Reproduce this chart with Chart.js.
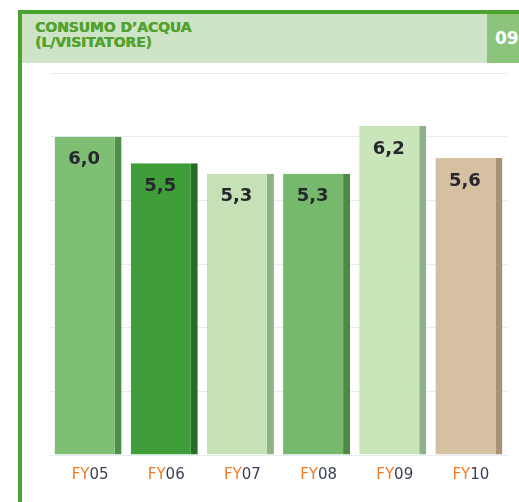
<!DOCTYPE html>
<html><head><meta charset="utf-8">
<script src="https://cdn.jsdelivr.net/npm/chart.js@4/dist/chart.umd.min.js"></script>
<style>
body{margin:0;background:#fff;}
#wrap{position:relative;width:519px;height:502px;overflow:hidden;background:#fff;font-family:"DejaVu Sans",Verdana,sans-serif;}
#frame{position:absolute;left:18px;top:10px;width:520px;height:500px;border-top:4px solid #4aa32e;border-left:4px solid #4aa32e;}
#head{position:absolute;left:22px;top:14px;width:465px;height:49px;background:#cfe4c6;}
#head div{position:absolute;left:13px;top:6px;color:#52a22f;font-weight:bold;font-size:14px;line-height:15px;letter-spacing:-0.1px;text-shadow:0.4px 0 0 #52a22f;}
#tab{position:absolute;left:487px;top:14px;width:40px;height:49px;background:#8dc47b;color:#fff;font-weight:bold;font-size:17px;line-height:49px;padding-left:8px;box-sizing:border-box;}
#c{position:absolute;left:22px;top:64px;}
</style></head>
<body><div id="wrap">
<div id="frame"></div>
<div id="head"><div>CONSUMO D’ACQUA<br>(L/VISITATORE)</div></div>
<div id="tab">09</div>
<canvas id="c" width="497" height="438"></canvas>
</div>
<script>
const categories = ["FY05","FY06","FY07","FY08","FY09","FY10"];
const values = [6.0, 5.5, 5.3, 5.3, 6.2, 5.6];
const barColors = ["#7fbf74","#3f9e3a","#c6e1b6","#76b96d","#c9e5ba","#d5c1a1"];
const sideColors = ["#4f8f4a","#256e25","#8fb386","#4a8a45","#8fb08a","#a89274"];

const labelPlugin = {
  id:'labels',
  afterDatasetsDraw(chart){
    const ctx = chart.ctx;
    const meta = chart.getDatasetMeta(0);
    const xs = chart.scales.x;
    ctx.save();
    ctx.font = 'bold 18px "DejaVu Sans", Verdana, sans-serif';
    ctx.fillStyle = '#26262e';
    ctx.textAlign = 'center';
    ctx.textBaseline = 'middle';
    meta.data.forEach((bar,i)=>{
      ctx.fillText(values[i].toFixed(1).replace('.',','), bar.x - 4, bar.y + 23);
    });
    ctx.font = '15px "DejaVu Sans", Verdana, sans-serif';
    ctx.textAlign = 'left';
    categories.forEach((c,i)=>{
      const x = xs.getPixelForValue(i) + 2;
      const y = chart.chartArea.bottom + 20;
      const pre = c.slice(0,2), rest = c.slice(2);
      const w = ctx.measureText(c).width;
      const x0 = x - w/2;
      ctx.fillStyle = '#f07a22';
      ctx.fillText(pre, x0, y);
      ctx.fillStyle = '#3a3f55';
      ctx.fillText(rest, x0 + ctx.measureText(pre).width, y);
    });
    ctx.restore();
  }
};

new Chart(document.getElementById('c'), {
  type:'bar',
  data:{labels:categories, datasets:[{
    data:values,
    backgroundColor:barColors,
    borderColor:sideColors,
    borderWidth:{top:0,left:0,bottom:0,right:7},
    borderSkipped:false,
    barPercentage:0.88,
    categoryPercentage:1
  }]},
  options:{
    responsive:false,
    animation:false,
    layout:{padding:{left:28,right:12,top:9,bottom:47}},
    plugins:{legend:{display:false},tooltip:{enabled:false}},
    scales:{
      x:{display:false},
      y:{min:0,max:7.2,ticks:{display:false,stepSize:1.2},
         border:{display:false},
         grid:{color:'rgba(190,210,225,0.4)',drawTicks:false}}
    }
  },
  plugins:[labelPlugin]
});
</script>
</body></html>
